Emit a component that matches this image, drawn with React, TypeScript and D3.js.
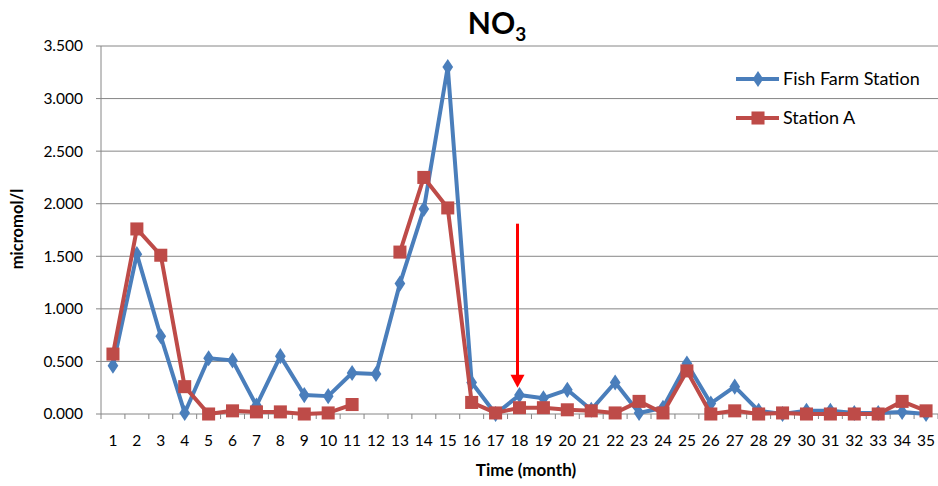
import React from 'react';
import * as d3 from 'd3';

const months = d3.range(1, 36).map(String);
const yTicks = [0, 0.5, 1, 1.5, 2, 2.5, 3, 3.5];

const fishFarm = [0.46, 1.52, 0.74, 0.01, 0.53, 0.51, 0.08, 0.55, 0.18, 0.17, 0.39, 0.38, 1.24, 1.95, 3.3, 0.3, 0.0, 0.18, 0.15, 0.23, 0.04, 0.3, 0.01, 0.06, 0.48, 0.1, 0.26, 0.03, 0.0, 0.03, 0.03, 0.01, 0.01, 0.02, 0.0];
const stationA: (number | null)[] = [0.57, 1.76, 1.51, 0.26, 0.0, 0.03, 0.02, 0.02, 0.0, 0.01, 0.09, null, 1.54, 2.25, 1.96, 0.11, 0.01, 0.06, 0.06, 0.04, 0.03, 0.01, 0.12, 0.01, 0.41, 0.0, 0.03, 0.0, 0.01, 0.0, 0.0, 0.0, 0.0, 0.12, 0.03];

const arrowMonth = '18';
const arrowFrom = 1.81;
const arrowTo = 0.25;

const W = 938;
const H = 486;
const font = 'Lato, "Open Sans", sans-serif';
const blue = '#4A7EBB';
const red = '#BE4B48';
const grey = '#868686';

export default function App() {
  const x = d3.scaleBand().domain(months).range([101, 938]).padding(0);
  const y = d3.scaleLinear().domain([0, 3.5]).range([414, 46]);
  const cx = (i: number) => (x(months[i]) as number) + x.bandwidth() / 2;

  const line = d3.line<number | null>()
    .defined(d => d != null)
    .x((_, i) => cx(i))
    .y(d => y(d as number));

  const diamond = d3.symbol().type(d3.symbolDiamond).size(75)();
  const square = d3.symbol().type(d3.symbolSquare).size(170)();

  const ax = (x(arrowMonth) as number) + x.bandwidth() / 2 - 2;

  return (
    <svg width={W} height={H} style={{ position: 'absolute', left: 0, top: 0, background: '#fff' }} fontFamily={font}>
      {yTicks.map(t => (
        <g key={t}>
          <line x1={96} x2={938} y1={y(t)} y2={y(t)} stroke={grey} strokeWidth={1} />
          <text x={83} y={y(t)} dy="0.35em" textAnchor="end" fontSize={15.5} fill="#000">
            {d3.format('.3f')(t)}
          </text>
        </g>
      ))}
      <line x1={101} x2={101} y1={46} y2={419} stroke={grey} />
      {months.map(m => (
        <g key={m}>
          <line x1={(x(m) as number) + x.bandwidth()} x2={(x(m) as number) + x.bandwidth()} y1={414} y2={419} stroke={grey} />
          <text x={(x(m) as number) + x.bandwidth() / 2} y={446} textAnchor="middle" fontSize={15.5} fill="#000">{m}</text>
        </g>
      ))}

      <path d={line(fishFarm) || ''} fill="none" stroke={blue} strokeWidth={4} strokeLinejoin="round" />
      {fishFarm.map((v, i) => (
        <path key={'f' + i} d={diamond || ''} transform={`translate(${cx(i)},${y(v)}) scale(1.15,1)`} fill={blue} />
      ))}
      <path d={line(stationA) || ''} fill="none" stroke={red} strokeWidth={4} strokeLinejoin="round" />
      {stationA.map((v, i) => v == null ? null : (
        <path key={'s' + i} d={square || ''} transform={`translate(${cx(i)},${y(v)})`} fill={red} />
      ))}

      <line x1={ax} x2={ax} y1={y(arrowFrom)} y2={y(arrowTo) - 12} stroke="#FF0000" strokeWidth={3} />
      <path d={`M${ax - 7},${y(arrowTo) - 13} L${ax + 7},${y(arrowTo) - 13} L${ax},${y(arrowTo)} Z`} fill="#FF0000" />

      <text x={497} y={34} textAnchor="middle" fontSize={30} fontWeight="bold" fill="#000">
        NO<tspan fontSize={19} dy={7}>3</tspan>
      </text>
      <text transform="translate(23,229) rotate(-90)" textAnchor="middle" fontSize={16.5} fontWeight="bold" fill="#000">micromol/l</text>
      <text x={526} y={476} textAnchor="middle" fontSize={17} fontWeight="bold" fill="#000">Time (month)</text>

      <g>
        <line x1={736} x2={779} y1={79} y2={79} stroke={blue} strokeWidth={4} />
        <path d={diamond || ''} transform="translate(758,79) scale(1.15,1)" fill={blue} />
        <text x={783} y={79} dy="0.35em" fontSize={18} fill="#000">Fish Farm Station</text>
        <line x1={736} x2={779} y1={118} y2={118} stroke={red} strokeWidth={4} />
        <path d={square || ''} transform="translate(758,118)" fill={red} />
        <text x={783} y={118} dy="0.35em" fontSize={18} fill="#000">Station A</text>
      </g>
    </svg>
  );
}
